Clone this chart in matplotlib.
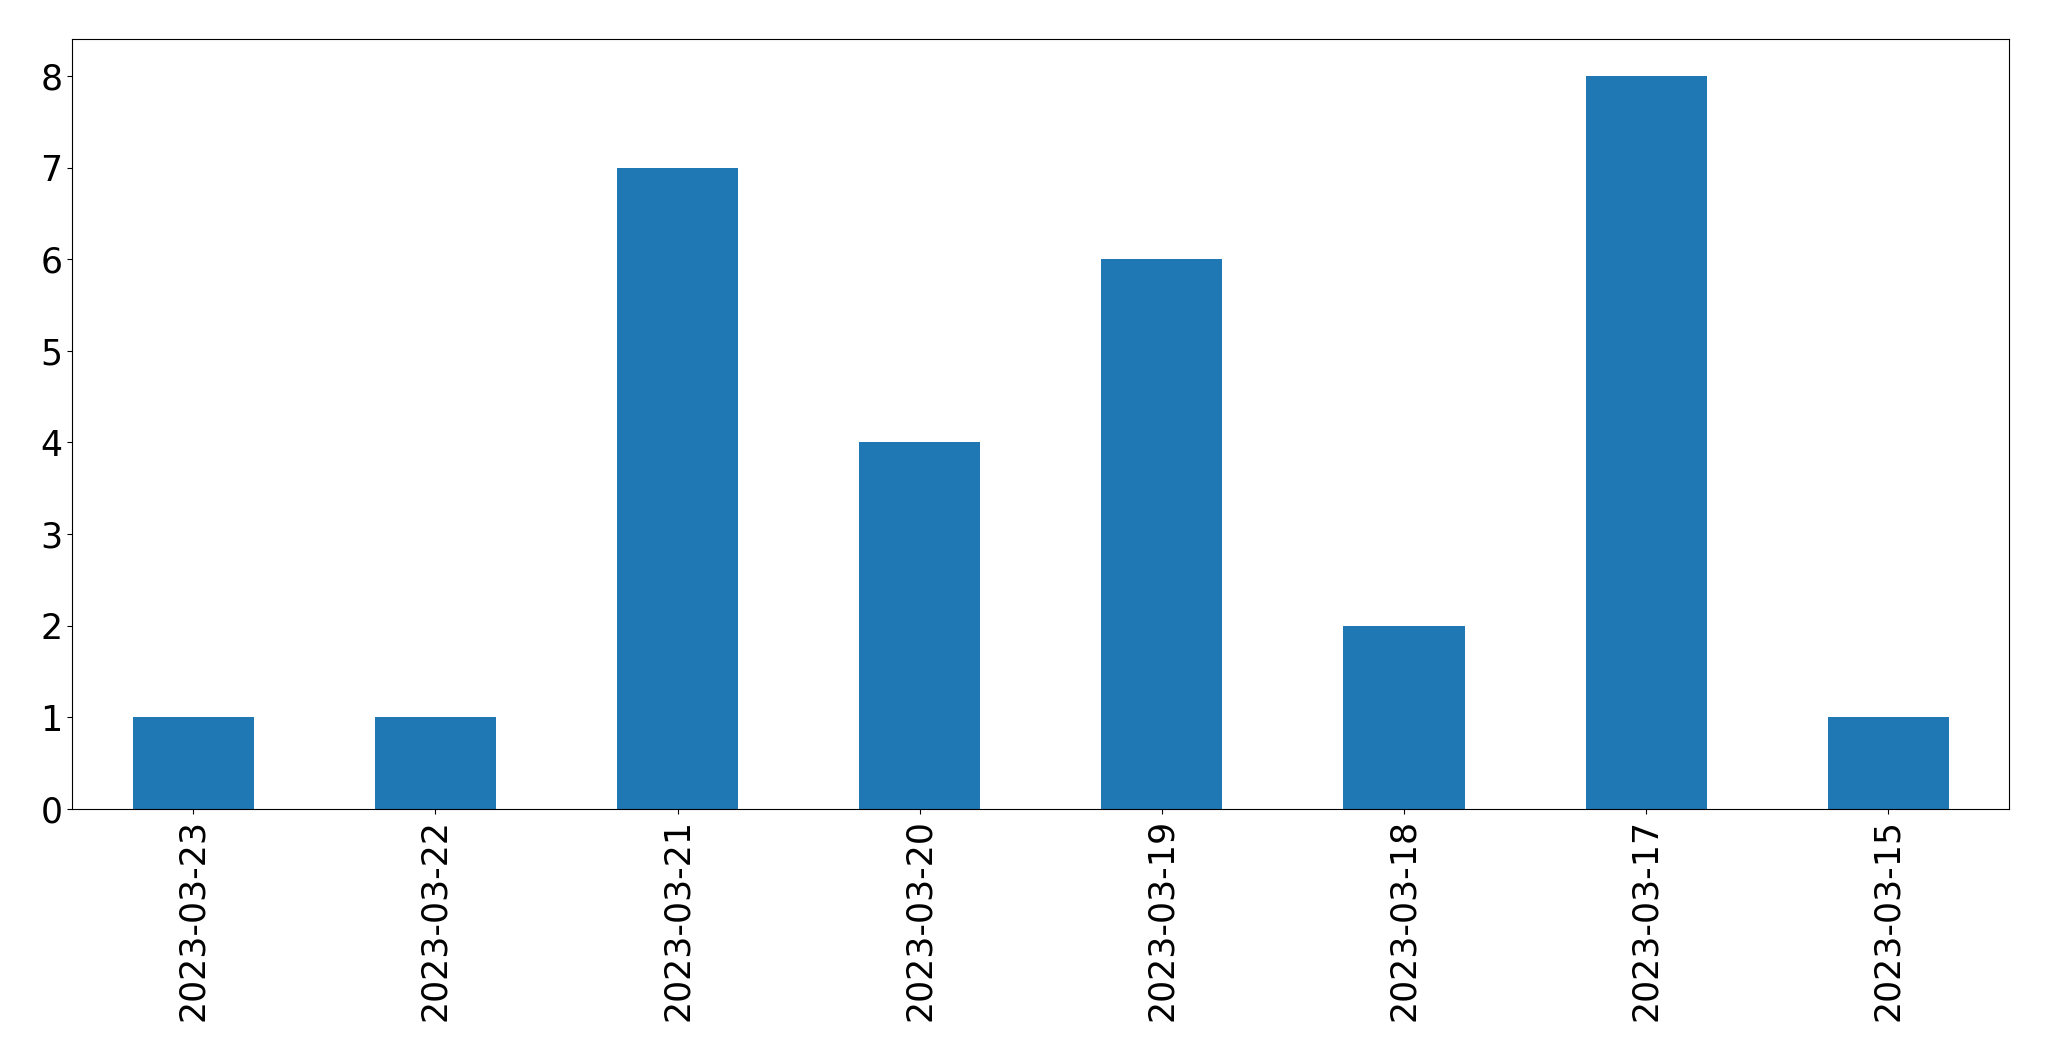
import matplotlib
matplotlib.use("Agg")
import matplotlib.pyplot as plt
import pandas as pd

dates = ['2023-03-23', '2023-03-22', '2023-03-21', '2023-03-20',
         '2023-03-19', '2023-03-18', '2023-03-17', '2023-03-15']
counts = [1, 1, 7, 4, 6, 2, 8, 1]

series = pd.Series(counts, index=dates)

fig = plt.figure(figsize=(20.49, 10.61), dpi=100)
ax = fig.add_axes([72.3 / 2049, 1 - 809 / 1061, (2009.3 - 72.3) / 2049, (809 - 39.3) / 1061])

series.plot(kind='bar', ax=ax, color='#1f77b4')
ax.tick_params(axis='both', labelsize=25)

fig.savefig('out.png', dpi=100)
